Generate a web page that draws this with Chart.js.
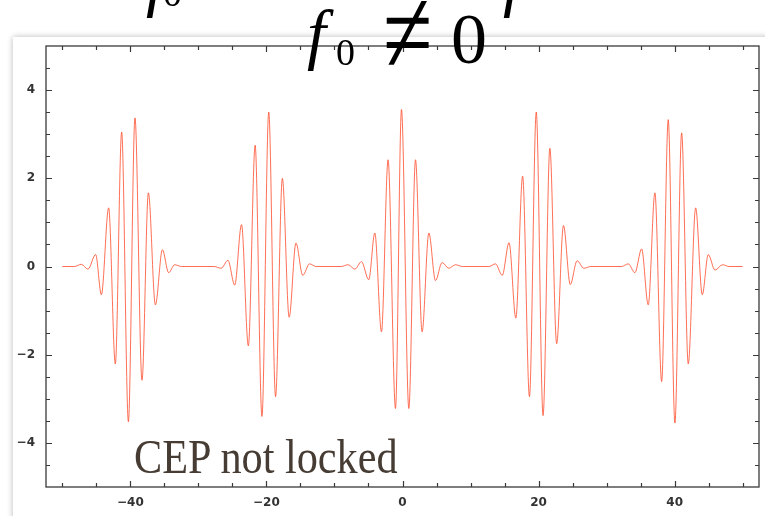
<!DOCTYPE html>
<html>
<head>
<meta charset="utf-8">
<script src="https://cdn.jsdelivr.net/npm/chart.js@4.4.1/dist/chart.umd.min.js"></script>
<style>
  html, body { margin: 0; padding: 0; background: #fff; }
  #wrap { position: relative; width: 765px; height: 516px; overflow: hidden; }
  .panel { position: absolute; left: 13px; top: 37px; width: 800px; height: 520px; background: #fff;
           box-shadow: 0 0 6px rgba(0,0,0,0.28); }
  canvas { position: absolute; left: 0; top: 0; }
  .tex { position: absolute; font-family: "Liberation Serif", serif; line-height: 1; color: #000; white-space: nowrap; }
  .it { font-style: italic; }
  .neq { transform: scaleY(1.35); transform-origin: 50% 50%; }
  #cep { position: absolute; left: 134px; top: 433px; font-family: "Liberation Serif", serif; font-size: 48px;
         line-height: 1; color: #463c33; transform: scaleX(0.88); transform-origin: 0 0; white-space: nowrap; }
</style>
</head>
<body>
<div id="wrap">
  <div class="panel"></div>
  <canvas id="pulseChart" width="765" height="516"></canvas>
  <!-- line above, cut off by the top edge -->
  <span class="tex it" style="left:146px; top:-53px; font-size:68px;">f</span>
  <span class="tex" style="left:163px; top:-26px; font-size:38px;">0</span>
  <span class="tex it" style="left:503px; top:-53px; font-size:68px;">f</span>
  <!-- title -->
  <span class="tex it" style="left:307px; top:0px; font-size:68px;">f</span>
  <span class="tex" style="left:336px; top:33px; font-size:38px;">0</span>
  <span class="tex neq" style="left:383px; top:-13px; font-size:90px;">≠</span>
  <span class="tex" style="left:451px; top:3px; font-size:72px;">0</span>
  <div id="cep">CEP not locked</div>
</div>
<script>
// peaks and troughs of each pulse (time, field)
const pulse1T = [-47.2, -46.24, -45.1, -44.26, -43.19, -42.21, -41.28, -40.29, -39.32, -38.29, -37.35, -36.32, -35.29, -34.37, -33.49];
const pulse1E = [0.05, -0.06, 0.27, -0.64, 1.33, -2.21, 3.05, -3.52, 3.37, -2.58, 1.67, -0.87, 0.38, -0.14, 0.04];

const pulse2T = [-26.66, -25.66, -24.66, -23.66, -22.66, -21.66, -20.66, -19.66, -18.66, -17.66, -16.66, -15.66, -14.66, -13.66];
const pulse2E = [-0.04, 0.14, -0.42, 0.95, -1.8, 2.75, -3.4, 3.5, -2.95, 2.0, -1.15, 0.53, -0.2, 0.06];

const pulse3T = [-8.0, -7.0, -6.03, -4.96, -4.07, -3.09, -2.12, -1.03, -0.15, 0.93, 1.91, 2.88, 3.87, 4.85, 5.82, 6.81, 7.79];
const pulse3E = [0.04, -0.06, 0.11, -0.30, 0.76, -1.48, 2.42, -3.22, 3.56, -3.22, 2.42, -1.48, 0.76, -0.32, 0.09, -0.04, 0.04];

const pulse4T = [13.66, 14.66, 15.66, 16.66, 17.66, 18.66, 19.66, 20.66, 21.66, 22.66, 23.66, 24.66, 25.66, 26.66];
const pulse4E = [0.06, -0.2, 0.54, -1.17, 2.05, -2.95, 3.5, -3.38, 2.68, -1.75, 0.93, -0.41, 0.13, -0.04];

const pulse5T = [33.18, 34.16, 35.15, 36.12, 37.10, 38.09, 39.06, 40.04, 41.03, 42.0, 43.09, 44.06, 44.94, 45.93, 47.06];
const pulse5E = [0.06, -0.14, 0.40, -0.87, 1.67, -2.61, 3.33, -3.55, 3.03, -2.21, 1.33, -0.64, 0.27, -0.08, 0.04];

// flat stretches between the pulses
const flatT = [-50, -48.2, -32.5, -27.7, -12.7, -9, 8.8, 12.7, 27.7, 32.2, 48, 50];

// tick values
const xLabelTicks = [-40, -20, 0, 20, 40];
const xFrameTicks = [-50, -45, -40, -35, -30, -25, -20, -15, -10, -5, 0, 5, 10, 15, 20, 25, 30, 35, 40, 45, 50];
const yLabelTicks = [-4, -2, 0, 2, 4];
const yFrameTicks = [-4.5, -4, -3.5, -3, -2.5, -2, -1.5, -1, -0.5, 0, 0.5, 1, 1.5, 2, 2.5, 3, 3.5, 4, 4.5];

let points = [];
[[pulse1T, pulse1E], [pulse2T, pulse2E], [pulse3T, pulse3E], [pulse4T, pulse4E], [pulse5T, pulse5E]].forEach(([ts, es]) => {
    ts.forEach((t, i) => points.push({ x: t, y: es[i] }));
});
flatT.forEach(t => points.push({ x: t, y: 0 }));
points.sort((a, b) => a.x - b.x);

const minusLabel = v => (v < 0 ? '\u2212' + Math.abs(v) : String(v));

// Mathematica style frame with inward ticks on all four sides
const framePlugin = {
    id: 'frame',
    afterDraw(chart) {
        const { ctx, chartArea: a, scales: { x, y } } = chart;
        ctx.save();
        ctx.strokeStyle = '#3a3a3a';
        ctx.lineWidth = 1.3;
        ctx.strokeRect(a.left, a.top, a.right - a.left, a.bottom - a.top);
        ctx.lineWidth = 1.2;
        ctx.beginPath();
        xFrameTicks.forEach(v => {
            const px = Math.round(x.getPixelForValue(v)) + 0.5;
            const len = xLabelTicks.includes(v) ? 6 : 4;
            ctx.moveTo(px, a.bottom); ctx.lineTo(px, a.bottom - len);
            ctx.moveTo(px, a.top); ctx.lineTo(px, a.top + len);
        });
        yFrameTicks.forEach(v => {
            const py = Math.round(y.getPixelForValue(v)) + 0.5;
            const len = yLabelTicks.includes(v) ? 6 : 4;
            ctx.moveTo(a.left, py); ctx.lineTo(a.left + len, py);
            ctx.moveTo(a.right, py); ctx.lineTo(a.right - len, py);
        });
        ctx.stroke();
        ctx.restore();
    }
};

const tickFont = { family: 'DejaVu Sans', size: 12, weight: 'bold' };

new Chart(document.getElementById('pulseChart').getContext('2d'), {
    type: 'scatter',
    data: {
        datasets: [{
            data: points,
            showLine: true,
            borderColor: '#ff4a2a',
            borderWidth: 0.8,
            pointRadius: 0,
            cubicInterpolationMode: 'monotone'
        }]
    },
    options: {
        responsive: false,
        animation: false,
        layout: { padding: { left: 0, right: 6, top: 46, bottom: 0 } },
        plugins: { legend: { display: false }, tooltip: { enabled: false } },
        scales: {
            x: {
                type: 'linear',
                min: -52.4,
                max: 52.4,
                afterFit: s => { s.height = 29; },
                afterBuildTicks: s => { s.ticks = xLabelTicks.map(v => ({ value: v })); },
                grid: { display: false, drawTicks: false },
                border: { display: false },
                ticks: {
                    padding: 9,
                    color: '#333',
                    font: tickFont,
                    maxRotation: 0,
                    callback: minusLabel
                }
            },
            y: {
                min: -5,
                max: 5,
                afterFit: s => { s.width = 46; },
                afterBuildTicks: s => { s.ticks = yLabelTicks.map(v => ({ value: v })); },
                grid: { display: false, drawTicks: false },
                border: { display: false },
                ticks: {
                    padding: 11,
                    color: '#333',
                    font: tickFont,
                    callback: minusLabel
                }
            }
        }
    },
    plugins: [framePlugin]
});
</script>
</body>
</html>
